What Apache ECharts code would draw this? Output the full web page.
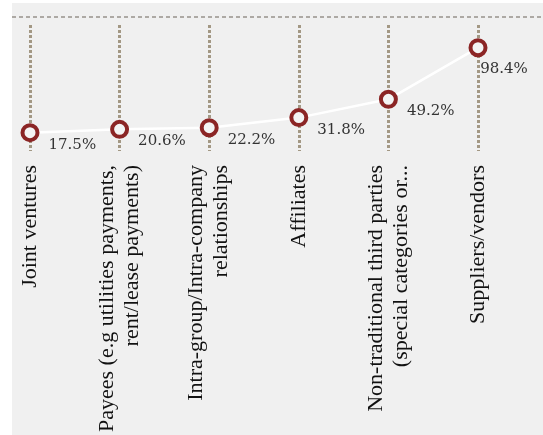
<!DOCTYPE html>
<html><head><meta charset="utf-8">
<script src="https://cdn.jsdelivr.net/npm/echarts@6/dist/echarts.min.js"></script>
<style>html,body{margin:0;padding:0;background:#fff}#c{width:543px;height:435px}</style>
</head><body><div id="c"></div>
<script>
var categories = [
  'Joint ventures',
  'Payees (e.g utilities payments,\nrent/lease payments)',
  'Intra-group/Intra-company\nrelationships',
  'Affiliates',
  'Non-traditional third parties\n(special categories or...',
  'Suppliers/vendors'
];
var values = [17.5, 20.6, 22.2, 31.8, 49.2, 98.4];

var chart = echarts.init(document.getElementById('c'));
var data = values.map(function (v, i) {
  var d = { value: v };
  if (i === values.length - 1) d.label = { position: 'bottom', offset: [26, 0], distance: 4 };
  return d;
});
chart.setOption({
  animation: false,
  backgroundColor: '#ffffff',
  graphic: [
    { type: 'rect', shape: { x: 12, y: 3, width: 531, height: 432 }, style: { fill: '#f0f0f0' }, z: -10 },
    { type: 'line', shape: { x1: 12, y1: 17, x2: 543, y2: 17 }, style: { stroke: '#6a6258', lineWidth: 1, lineDash: [4, 3] }, z: -5 }
  ],
  grid: { left: 30, right: 65, top: 25, bottom: 282 },
  xAxis: {
    type: 'category',
    data: categories,
    boundaryGap: false,
    axisLine: { show: false },
    axisTick: { show: false },
    splitLine: { show: true, lineStyle: { color: '#a39884', width: 3, type: [3, 2] } },
    axisLabel: {
      rotate: 90, margin: 14, interval: 0,
      fontFamily: 'Liberation Serif', fontSize: 22, color: '#111', lineHeight: 25
    }
  },
  yAxis: {
    type: 'value', min: 0, max: 120,
    show: false,
    splitLine: { show: false }
  },
  series: [{
    type: 'line',
    data: data,
    symbol: 'circle',
    symbolSize: 15,
    showAllSymbol: true,
    lineStyle: { color: '#ffffff', width: 2.5 },
    itemStyle: { color: '#f4f4f4', borderColor: '#8b2525', borderWidth: 4 },
    label: {
      show: true, position: 'right', distance: 9, offset: [0, 12],
      formatter: function (p) { return p.value.toFixed(1) + '%'; },
      fontFamily: 'DejaVu Serif', fontSize: 15, color: '#333'
    },
    z: 5
  }]
});
</script></body></html>
